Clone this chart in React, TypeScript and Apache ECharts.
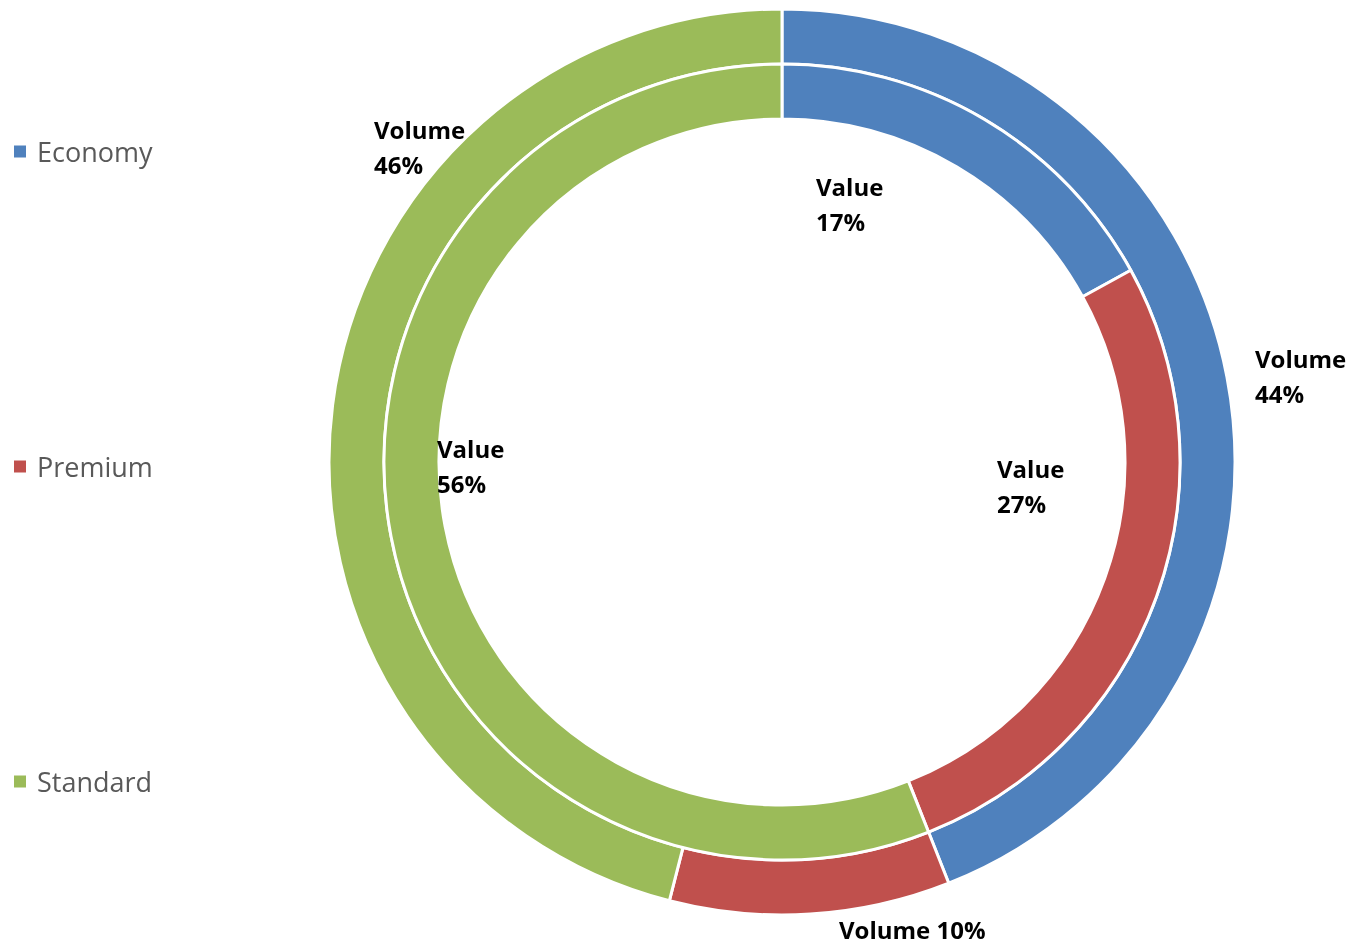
import React, { useEffect, useRef } from "react";
import * as echarts from "echarts";

const categories = ["Economy", "Premium", "Standard"];
const volumeShare = [44, 10, 46];
const valueShare = [17, 27, 56];
const colors = ["#4F81BD", "#C0504D", "#9BBB59"];

// label anchor positions (layout only)
const volumeLabelPos = [
  [1255, 341],
  [839, 914],
  [374, 112],
];
const valueLabelPos = [
  [816, 169],
  [997, 451],
  [437, 431],
];

export default function App() {
  const ref = useRef<HTMLDivElement>(null);
  useEffect(() => {
    if (!ref.current) return;
    const chart = echarts.init(ref.current, null, { renderer: "svg" });
    const labelStyle = {
      show: true,
      color: "#000",
      fontFamily: "'Open Sans', 'Noto Sans', sans-serif",
      fontWeight: "bold" as const,
      fontSize: 24,
      lineHeight: 35,
      overflow: "none" as const,
      width: 200,
    };
    chart.setOption({
      animation: false,
      color: colors,
      legend: {
        orient: "vertical",
        left: 9,
        top: 133,
        itemWidth: 12,
        itemHeight: 12,
        itemGap: 288,
        icon: "rect",
        itemStyle: { borderWidth: 0 },
        textStyle: {
          fontSize: 27,
          color: "#595959",
          fontFamily: "'Open Sans', 'Noto Sans', sans-serif",
          padding: [0, 0, 0, 6],
        },
        data: categories,
      },
      series: [
        {
          name: "Volume",
          type: "pie",
          center: [782, 462],
          radius: [398, 453],
          startAngle: 90,
          clockwise: true,
          itemStyle: { borderColor: "#fff", borderWidth: 3 },
          label: {
            ...labelStyle,
            formatter: (p: any) =>
              p.dataIndex === 1 ? `Volume ${p.value}%` : `Volume\n${p.value}%`,
          },
          labelLine: { show: false },
          labelLayout: (p: any) => ({
            x: volumeLabelPos[p.dataIndex][0],
            y: volumeLabelPos[p.dataIndex][1],
            align: "left",
            verticalAlign: "top",
          }),
          emphasis: { disabled: true },
          data: categories.map((c, i) => ({
            name: c,
            value: volumeShare[i],
            label: i === 1 ? { lineHeight: 30 } : undefined,
          })),
        },
        {
          name: "Value",
          type: "pie",
          center: [782, 462],
          radius: [343, 398],
          startAngle: 90,
          clockwise: true,
          itemStyle: { borderColor: "#fff", borderWidth: 3 },
          label: {
            ...labelStyle,
            formatter: (p: any) => `Value\n${p.value}%`,
          },
          labelLine: { show: false },
          labelLayout: (p: any) => ({
            x: valueLabelPos[p.dataIndex][0],
            y: valueLabelPos[p.dataIndex][1],
            align: "left",
            verticalAlign: "top",
          }),
          emphasis: { disabled: true },
          data: categories.map((c, i) => ({ name: c, value: valueShare[i] })),
        },
      ],
    });
    return () => chart.dispose();
  }, []);
  return (
    <div
      ref={ref}
      style={{ position: "fixed", left: 0, top: 0, width: 1355, height: 945 }}
    />
  );
}
